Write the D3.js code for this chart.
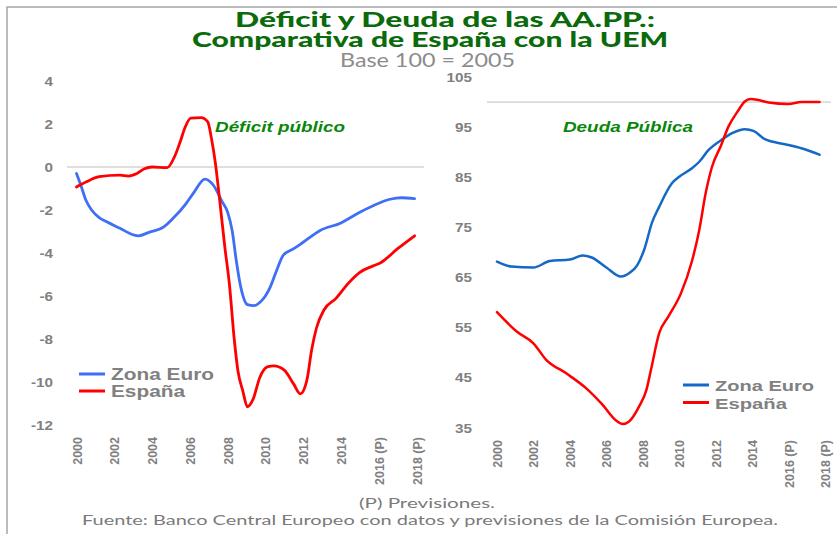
<!DOCTYPE html>
<html>
<head>
<meta charset="utf-8">
<script src="https://cdn.jsdelivr.net/npm/d3@7"></script>
<style>
  body { margin: 0; background: #fff; }
  svg { display: block; }
  .tick text { font-family: "Liberation Sans", Arial, sans-serif; font-weight: bold; fill: #808080; }
</style>
</head>
<body>
<div id="chart"></div>
<script>

// ---- data ----
// Deficit (% GDP), left panel
var deficitEuroYears = [2000, 2000.25, 2000.5, 2000.8, 2001.2, 2001.6, 2002.3, 2003.0, 2003.3, 2003.8, 2004.6, 2005.1, 2005.8, 2006.2, 2006.8, 2007.25, 2007.7, 2008.0, 2008.25, 2008.45, 2008.7, 2009.05, 2009.4, 2009.7, 2010.0, 2010.25, 2010.6, 2010.95, 2011.5, 2012.0, 2012.9, 2014.0, 2014.9, 2015.7, 2016.6, 2017.2, 2017.9];
var deficitEuro      = [-0.3, -0.9, -1.55, -2.0, -2.35, -2.55, -2.85, -3.15, -3.2, -3.05, -2.8, -2.4, -1.7, -1.2, -0.56, -0.85, -1.6, -2.1, -3.0, -4.3, -5.6, -6.4, -6.45, -6.3, -6.0, -5.6, -4.8, -4.1, -3.8, -3.5, -2.95, -2.6, -2.15, -1.8, -1.5, -1.43, -1.47];

var deficitSpainYears = [2000, 2000.5, 2001.2, 2002.3, 2002.75, 2003.2, 2003.6, 2004.0, 2004.8, 2005.2, 2005.5, 2005.75, 2006.05, 2006.6, 2006.95, 2007.15, 2007.35, 2007.6, 2007.85, 2008.1, 2008.35, 2008.55, 2008.8, 2009.05, 2009.35, 2009.7, 2010.1, 2010.45, 2011.0, 2011.5, 2011.85, 2012.2, 2012.45, 2012.7, 2013.1, 2013.75, 2014.4, 2015.0, 2015.7, 2016.1, 2017.0, 2017.9];
var deficitSpain      = [-0.93, -0.7, -0.45, -0.38, -0.42, -0.3, -0.08, 0.0, -0.03, 0.5, 1.2, 1.85, 2.27, 2.3, 2.1, 1.3, 0.2, -1.7, -3.7, -5.5, -8.0, -9.5, -10.4, -11.15, -10.8, -9.8, -9.3, -9.25, -9.45, -10.1, -10.55, -9.9, -8.5, -7.5, -6.65, -6.1, -5.4, -4.9, -4.6, -4.45, -3.8, -3.2];

// Debt (% GDP), right panel
var debtEuroYears = [2000, 2000.8, 2002, 2002.9, 2004, 2004.7, 2005.2, 2006, 2006.8, 2007.3, 2007.7, 2008.1, 2008.5, 2008.9, 2009.6, 2010, 2010.7, 2011.1, 2011.6, 2012.3, 2012.9, 2013.6, 2014.1, 2014.7, 2015.8, 2016.7, 2017.7];
var debtEuro      = [68.2, 67.2, 67.0, 68.3, 68.6, 69.4, 69.0, 67.0, 65.2, 66.0, 67.5, 70.8, 75.9, 79.1, 83.8, 85.1, 86.8, 88.1, 90.4, 92.4, 93.8, 94.6, 94.2, 92.6, 91.6, 90.8, 89.5];

var debtSpainYears = [2000, 2001.1, 2002, 2002.7, 2003.8, 2004.9, 2005.8, 2006.5, 2006.9, 2007.25, 2007.8, 2008.2, 2008.45, 2008.9, 2009.4, 2010.1, 2010.7, 2011.1, 2011.45, 2011.8, 2012.3, 2012.7, 2013.2, 2013.6, 2013.9, 2014.35, 2014.9, 2016.0, 2016.7, 2017.7];
var debtSpain      = [58.1, 54.2, 51.9, 48.6, 45.9, 42.9, 39.6, 36.6, 35.8, 36.3, 39.3, 42.6, 46.6, 53.9, 57.2, 61.9, 68.3, 74.5, 81.8, 87.1, 91.4, 95.1, 98.1, 100.1, 100.6, 100.4, 99.9, 99.6, 100.0, 100.0];

// ticks
var yearTicks = [2000, 2002, 2004, 2006, 2008, 2010, 2012, 2014, 2016, 2018];
var yearLabels = ["2000", "2002", "2004", "2006", "2008", "2010", "2012", "2014", "2016 (P)", "2018 (P)"];
var deficitTicks = [-12, -10, -8, -6, -4, -2, 0, 2, 4];
var debtTicks = [35, 45, 55, 65, 75, 85, 95, 105];

var seriesNames = ["Zona Euro", "España"];

// ---- layout ----
var width = 837, height = 534;
var svg = d3.select("#chart").append("svg")
    .attr("width", width)
    .attr("height", height);

// frame (top and left edge)
svg.append("path")
    .attr("d", "M7,534 V7 H837")
    .attr("fill", "none")
    .attr("stroke", "#a6a6a6")
    .attr("stroke-width", 1.5);

// titles
var green = "#0b6a0b";
svg.append("text")
    .attr("x", 235).attr("y", 27)
    .attr("textLength", 420).attr("lengthAdjust", "spacingAndGlyphs")
    .style("font-family", "Lato, 'Open Sans', sans-serif")
    .style("font-weight", "900").style("font-size", "20px")
    .attr("fill", green)
    .text("Déficit y Deuda de las AA.PP.:");

svg.append("text")
    .attr("x", 192).attr("y", 47)
    .attr("textLength", 476).attr("lengthAdjust", "spacingAndGlyphs")
    .style("font-family", "Lato, 'Open Sans', sans-serif")
    .style("font-weight", "900").style("font-size", "20px")
    .attr("fill", green)
    .text("Comparativa de España con la UEM");

svg.append("text")
    .attr("x", 340).attr("y", 67)
    .attr("textLength", 175).attr("lengthAdjust", "spacingAndGlyphs")
    .style("font-family", "Lato, 'Open Sans', sans-serif")
    .style("font-size", "19px")
    .attr("fill", "#8c8c8c")
    .text("Base 100 = 2005");

// footer
svg.append("text")
    .attr("x", 359).attr("y", 508)
    .attr("textLength", 136).attr("lengthAdjust", "spacingAndGlyphs")
    .style("font-family", "Lato, 'Open Sans', sans-serif")
    .style("font-size", "14px")
    .attr("fill", "#7a7a7a")
    .text("(P) Previsiones.");

svg.append("text")
    .attr("x", 82).attr("y", 525)
    .attr("textLength", 696).attr("lengthAdjust", "spacingAndGlyphs")
    .style("font-family", "Lato, 'Open Sans', sans-serif")
    .style("font-size", "14px")
    .attr("fill", "#7a7a7a")
    .text("Fuente: Banco Central Europeo con datos y previsiones de la Comisión Europea.");

// ---- one panel ----
function drawPanel(opt) {
    var x = d3.scaleLinear().domain([2000, 2018]).range(opt.xRange);
    var y = d3.scaleLinear().domain(opt.yDomain).range(opt.yRange);

    // y axis labels (right edge sits on yLabelX)
    var yAxis = svg.append("g")
        .attr("transform", `translate(${opt.yLabelX}, 0)`)
        .call(d3.axisLeft(y).tickValues(opt.yTicks).tickSize(0).tickPadding(0)
            .tickFormat(function (d) { return String(d); }));
    yAxis.select(".domain").remove();
    yAxis.selectAll("text")
        .style("font-size", "12.5px")
        .attr("transform", "scale(1.22,1)");

    // x axis labels (rotated)
    var xAxis = svg.append("g")
        .attr("transform", `translate(0, ${opt.xLabelY})`)
        .call(d3.axisBottom(x).tickValues(yearTicks).tickSize(0)
            .tickFormat(function (d, i) { return yearLabels[i]; }));
    xAxis.select(".domain").remove();
    xAxis.selectAll("text")
        .style("font-size", "12.5px")
        .attr("text-anchor", "end")
        .attr("transform", "rotate(-90)")
        .attr("x", 0).attr("y", 0).attr("dy", "0.36em");

    // reference line
    svg.append("line")
        .attr("x1", opt.refX[0]).attr("x2", opt.refX[1])
        .attr("y1", y(opt.refValue)).attr("y2", y(opt.refValue))
        .attr("stroke", "#bfbfbf").attr("stroke-width", 1);

    var line = d3.line()
        .x(function (d) { return x(d[0]); })
        .y(function (d) { return y(d[1]); })
        .curve(d3.curveMonotoneX);

    opt.series.forEach(function (s) {
        var pts = s.years.map(function (yr, i) { return [yr, s.values[i]]; });
        svg.append("path")
            .datum(pts)
            .attr("d", line)
            .attr("fill", "none")
            .attr("stroke", s.color)
            .attr("stroke-width", opt.lineWidth)
            .attr("stroke-linejoin", "round")
            .attr("stroke-linecap", "round");
    });

    // panel label
    svg.append("text")
        .attr("x", opt.label.x).attr("y", opt.label.y)
        .attr("textLength", 130).attr("lengthAdjust", "spacingAndGlyphs")
        .style("font-family", "'Liberation Sans', Arial, sans-serif")
        .style("font-weight", "bold").style("font-style", "italic")
        .style("font-size", "15px")
        .attr("fill", "#0a870a")
        .text(opt.label.text);

    // legend
    opt.series.forEach(function (s, i) {
        var ly = opt.legend.y + i * opt.legend.gap;
        svg.append("line")
            .attr("x1", opt.legend.x).attr("x2", opt.legend.x + 26)
            .attr("y1", ly).attr("y2", ly)
            .attr("stroke", s.color).attr("stroke-width", 3);
        svg.append("text")
            .attr("x", opt.legend.x + 32).attr("y", ly + 6)
            .attr("textLength", opt.legend.widths[i]).attr("lengthAdjust", "spacingAndGlyphs")
            .style("font-family", "'Liberation Sans', Arial, sans-serif")
            .style("font-weight", "bold")
            .style("font-size", opt.legend.fontSize + "px")
            .attr("fill", "#808080")
            .text(seriesNames[i]);
    });
}

drawPanel({
    xRange: [76.5, 416.5],
    yDomain: [-12, 4], yRange: [425, 81],
    yTicks: deficitTicks, yLabelX: 53,
    xLabelY: 437,
    refValue: 0, refX: [67, 424],
    lineWidth: 2.8,
    series: [
        { years: deficitEuroYears, values: deficitEuro, color: "#3f6ff5" },
        { years: deficitSpainYears, values: deficitSpain, color: "#ff0000" }
    ],
    label: { text: "Déficit público", x: 215, y: 132 },
    legend: { x: 79, y: 374, gap: 17, fontSize: 16, widths: [103, 74] }
});

drawPanel({
    xRange: [497, 825],
    yDomain: [35, 105], yRange: [428, 77],
    yTicks: debtTicks, yLabelX: 472,
    xLabelY: 440,
    refValue: 100, refX: [487, 831],
    lineWidth: 2.5,
    series: [
        { years: debtEuroYears, values: debtEuro, color: "#1469c6" },
        { years: debtSpainYears, values: debtSpain, color: "#ff0000" }
    ],
    label: { text: "Deuda Pública", x: 563, y: 132 },
    legend: { x: 683, y: 385, gap: 17.5, fontSize: 15.5, widths: [99, 72] }
});

</script>
</body>
</html>
